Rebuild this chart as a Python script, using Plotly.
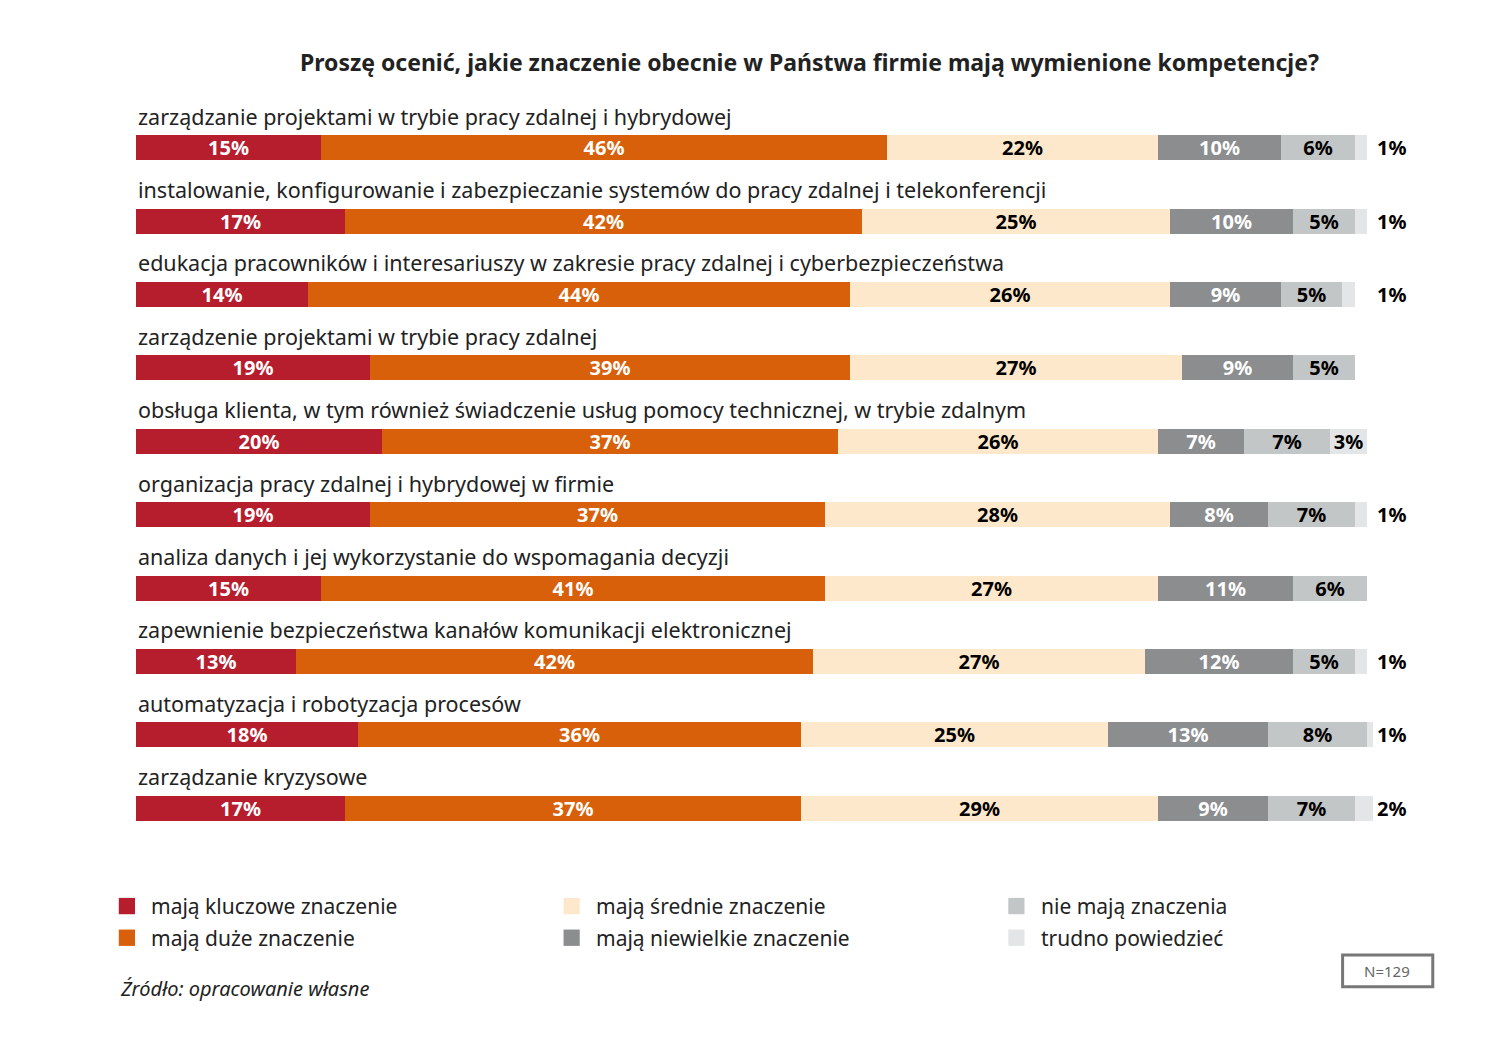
import plotly.graph_objects as go

categories = [
    "zarządzanie projektami w trybie pracy zdalnej i hybrydowej",
    "instalowanie, konfigurowanie i zabezpieczanie systemów do pracy zdalnej i telekonferencji",
    "edukacja pracowników i interesariuszy w zakresie pracy zdalnej i cyberbezpieczeństwa",
    "zarządzenie projektami w trybie pracy zdalnej",
    "obsługa klienta, w tym również świadczenie usług pomocy technicznej, w trybie zdalnym",
    "organizacja pracy zdalnej i hybrydowej w firmie",
    "analiza danych i jej wykorzystanie do wspomagania decyzji",
    "zapewnienie bezpieczeństwa kanałów komunikacji elektronicznej",
    "automatyzacja i robotyzacja procesów",
    "zarządzanie kryzysowe",
]

kluczowe = [15, 17, 14, 19, 20, 19, 15, 13, 18, 17]
duze = [46, 42, 44, 39, 37, 37, 41, 42, 36, 37]
srednie = [22, 25, 26, 27, 26, 28, 27, 27, 25, 29]
niewielkie = [10, 10, 9, 9, 7, 8, 11, 12, 13, 9]
nie_maja = [6, 5, 5, 5, 7, 7, 6, 5, 8, 7]
trudno = [1, 1, 1, 0, 3, 1, 0, 1, 1, 2]

series = [
    ("mają kluczowe znaczenie", kluczowe, "#B61E2E", "white"),
    ("mają duże znaczenie", duze, "#D9600A", "white"),
    ("mają średnie znaczenie", srednie, "#FDE8CC", "black"),
    ("mają niewielkie znaczenie", niewielkie, "#8B8D8F", "white"),
    ("nie mają znaczenia", nie_maja, "#C3C6C6", "black"),
    ("trudno powiedzieć", trudno, "#E4E5E6", "black"),
]

FONT = "Noto Sans"
ys = list(range(len(categories)))

fig = go.Figure()
for name, vals, color, tcol in series:
    texts = [f"{v}%" if v >= 3 else "" for v in vals]
    fig.add_trace(go.Bar(
        y=ys, x=vals, orientation="h", name=name, marker_color=color,
        marker_line_width=0, width=0.34, text=texts,
        textposition="inside", insidetextanchor="middle", textangle=0,
        constraintext="none",
        textfont=dict(family=FONT, size=20, color=tcol, weight="bold"),
        showlegend=False, hoverinfo="skip",
    ))

annotations = []
for i, cat in enumerate(categories):
    annotations.append(dict(x=0, y=i - 0.43, xref="x", yref="y", text=cat,
                            showarrow=False, xanchor="left", yanchor="middle",
                            font=dict(family=FONT, size=21.5, color="#222")))
    # small values written to the right of the bar
    if 0 < trudno[i] < 3:
        annotations.append(dict(x=1, y=i, xref="paper", yref="y",
                                text=f"{trudno[i]}%", showarrow=False, xanchor="left",
                                xshift=2, font=dict(family=FONT, size=20, color="black", weight="bold")))

# page body has an 8px margin, so pixel targets are shifted by 8
OFF = 8
L, R, T, B = 136 - OFF, 1357 - OFF, 100 - OFF, 840 - OFF
def px(x):
    return (x - OFF - L) / (R - L)
def py(y):
    return (B - (y - OFF)) / (B - T)

shapes = []
legend_pos = [(127, 889), (127, 920), (566, 889), (566, 920), (1005, 889), (1005, 920)]
for (name, vals, color, tcol), (lx, ly) in zip(series, legend_pos):
    shapes.append(dict(type="rect", xref="paper", yref="paper",
                       x0=px(lx - 8), x1=px(lx + 8), y0=py(ly + 8), y1=py(ly - 8),
                       fillcolor=color, line_width=0))
    annotations.append(dict(x=px(lx + 22), y=py(ly), xref="paper", yref="paper", text=name,
                            showarrow=False, xanchor="left", yanchor="middle",
                            font=dict(family=FONT, size=21, color="#222")))

shapes.append(dict(type="rect", xref="paper", yref="paper", layer="below",
                   x0=px(1327), x1=px(1416), y0=py(968), y1=py(937),
                   line=dict(color="#777", width=3), fillcolor="white"))
annotations.append(dict(x=px(1371), y=py(953), xref="paper", yref="paper", text="N=129",
                        showarrow=False, xanchor="center", yanchor="middle",
                        font=dict(family=FONT, size=15, color="#666")))
annotations.append(dict(x=px(118), y=py(970), xref="paper", yref="paper",
                        text="<i>Źródło: opracowanie własne</i>", showarrow=False,
                        xanchor="left", yanchor="middle",
                        font=dict(family=FONT, size=20, color="#222")))
annotations.append(dict(x=px(801), y=py(63), xref="paper", yref="paper",
                        text="<b>Proszę ocenić, jakie znaczenie obecnie w Państwa firmie mają wymienione kompetencje?</b>",
                        showarrow=False, xanchor="center", yanchor="middle",
                        font=dict(family=FONT, size=23, color="#222")))

fig.update_layout(
    barmode="stack",
    width=1502, height=1042,
    margin=dict(l=L, r=1502 - R - 2 * OFF, t=T, b=1042 - B - 2 * OFF),
    paper_bgcolor="white", plot_bgcolor="white",
    xaxis=dict(range=[0, 100.5], visible=False, fixedrange=True),
    yaxis=dict(range=[9.65, -0.65], visible=False, fixedrange=True),
    annotations=annotations, shapes=shapes,
    bargap=0,
)

fig.write_html("out.html")
